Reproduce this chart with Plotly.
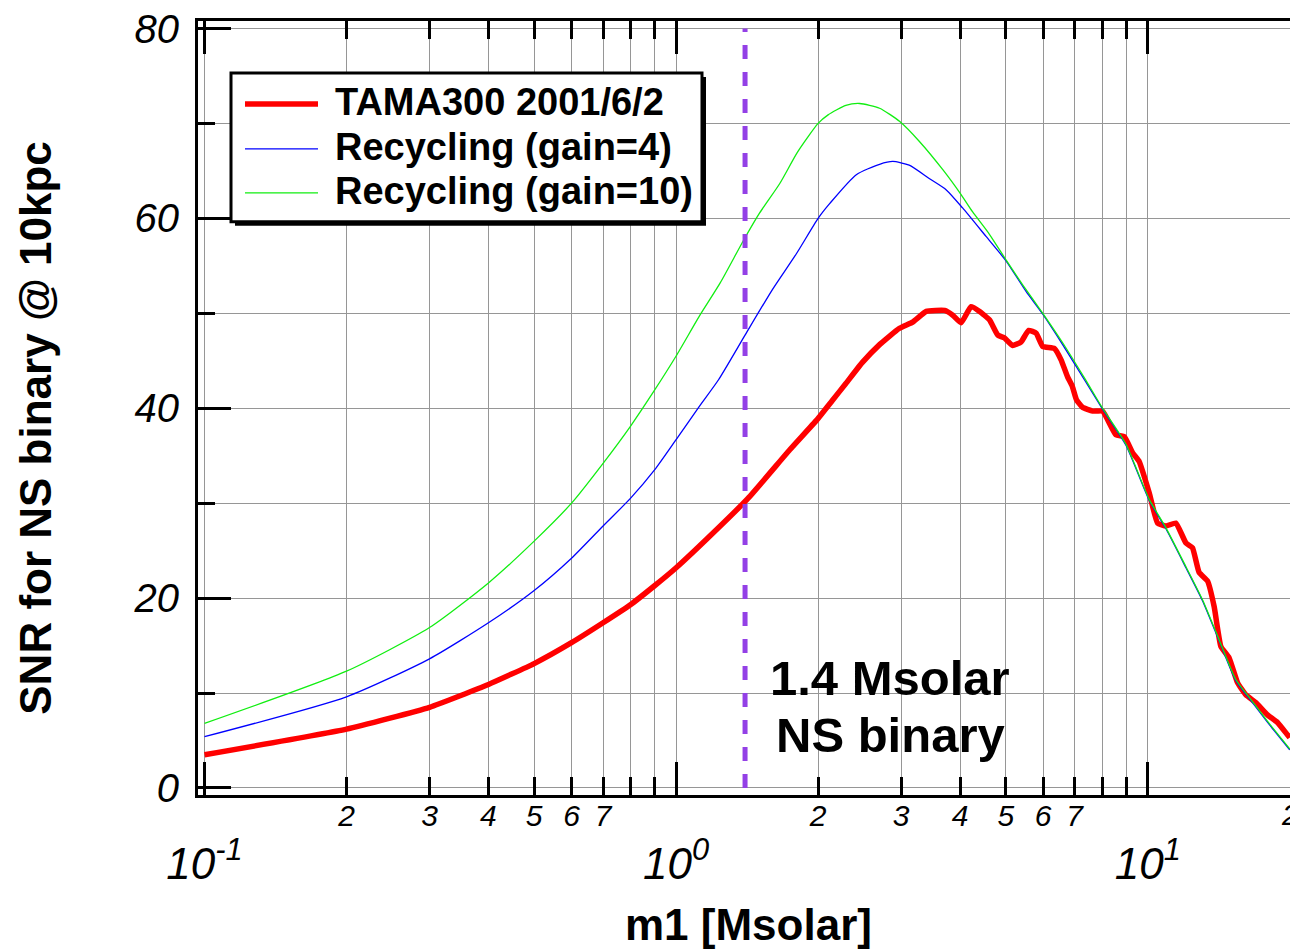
import plotly.graph_objects as go

# ---------------- data ----------------
mass_tama = [0.1, 0.2, 0.3, 0.4, 0.5, 0.6, 0.7, 0.8, 0.9, 1.0, 1.16, 1.42, 1.74, 1.99, 2.15, 2.29,
             2.48, 2.70, 2.97, 3.18, 3.39, 3.71, 3.86, 4.02, 4.22, 4.40, 4.62, 4.81, 4.97, 5.17,
             5.39, 5.59, 5.80, 5.99, 6.34, 6.55, 6.76, 6.92, 7.06, 7.27, 7.64, 8.02, 8.56, 8.92,
             9.29, 9.59, 10.07, 10.49, 10.93, 11.47, 12.05, 12.44, 12.85, 13.39, 13.83, 14.29,
             14.88, 15.50, 16.15, 16.95, 17.94, 18.84, 19.78, 20.0]
snr_tama = [3.5, 6.2, 8.5, 10.9, 13.1, 15.3, 17.4, 19.3, 21.3, 23.2, 26.2, 30.5, 35.6, 38.8, 40.9, 42.6,
            44.8, 46.7, 48.4, 49.1, 50.2, 50.3, 49.8, 49.0, 50.7, 50.2, 49.3, 47.7, 47.4, 46.6,
            47.0, 48.2, 47.9, 46.5, 46.3, 45.1, 43.3, 42.3, 40.9, 40.1, 39.7, 39.7, 37.2, 37.0,
            35.3, 34.4, 31.1, 27.9, 27.6, 27.9, 25.8, 25.3, 22.7, 21.8, 19.1, 14.9,
            13.7, 11.1, 9.8, 9.0, 7.7, 6.9, 5.6, 5.3]

mass_gain4 = [0.1, 0.2, 0.3, 0.4, 0.5, 0.6, 0.7, 0.8, 0.9, 1.0, 1.12, 1.23, 1.40, 1.60, 1.80, 2.00,
              2.12, 2.41, 2.70, 2.88, 3.12, 3.44, 3.74, 4.05, 4.54, 5.01, 5.52, 5.99, 6.60, 7.34,
              8.02, 8.99, 10.07, 10.93, 12.05, 13.07, 14.17, 15.38, 16.67, 18.09, 19.94, 20.0]
snr_gain4 = [5.4, 9.6, 13.6, 17.4, 20.8, 24.2, 27.6, 30.5, 33.5, 36.7, 40.2, 43.0, 47.7, 52.5, 56.3, 60.0,
             61.6, 64.6, 65.7, 66.0, 65.6, 64.2, 63.0, 61.1, 58.1, 55.5, 52.3, 49.9, 46.7, 43.0,
             39.9, 36.1, 30.3, 27.3, 23.2, 19.7, 15.5, 11.3, 9.0, 6.7, 4.1, 4.0]

mass_gain10 = [0.1, 0.2, 0.3, 0.4, 0.5, 0.6, 0.7, 0.8, 0.9, 1.0, 1.12, 1.24, 1.39, 1.50, 1.66, 1.81,
               2.00, 2.10, 2.29, 2.45, 2.70, 2.98, 3.28, 3.68, 4.02, 4.25, 4.62, 5.01, 5.43, 5.99,
               6.60, 7.34, 8.02, 8.99, 10.07, 10.93, 12.05, 13.07, 14.17, 15.38, 16.67, 18.09, 19.94, 20.0]
snr_gain10 = [6.8, 12.3, 16.9, 21.6, 26.0, 30.0, 34.2, 38.1, 41.9, 45.5, 49.7, 53.2, 57.7, 60.5, 63.7, 67.0,
              70.0, 70.9, 71.9, 72.1, 71.6, 70.2, 68.1, 65.1, 62.5, 60.7, 58.3, 55.6, 53.0, 50.0,
              46.9, 43.2, 40.0, 36.2, 30.4, 27.4, 23.3, 19.8, 15.6, 11.4, 9.1, 6.8, 4.2, 4.1]

ns_mass = [1.4, 1.4]
ns_snr = [0, 80]

series_names = ["TAMA300 2001/6/2", "Recycling (gain=4)", "Recycling (gain=10)"]
series_colors = ["#ff0000", "#0000ff", "#11ee11"]

y_major = [0, 20, 40, 60, 80]
y_minor = [10, 30, 50, 70]
x_major = [0.1, 1, 10]
x_major_text = ["10<sup>-1</sup>", "10<sup>0</sup>", "10<sup>1</sup>"]
x_minor = [0.2, 0.3, 0.4, 0.5, 0.6, 0.7, 0.8, 0.9, 2, 3, 4, 5, 6, 7, 8, 9, 20]
x_minor_labelled = [0.2, 0.3, 0.4, 0.5, 0.6, 0.7, 2, 3, 4, 5, 6, 7]
x_minor_text = ["2", "3", "4", "5", "6", "7", "2", "3", "4", "5", "6", "7"]

x_title = "m1 [Msolar]"
y_title = "SNR for NS binary @ 10kpc"
note_lines = ["1.4 Msolar", "NS binary"]

# ---------------- figure ----------------
FONT = "Liberation Sans, Arial, sans-serif"
GRID = "rgb(150,150,150)"
XR = [-1.0138, 1.3016]
YR = [-0.74, 80.79]

fig = go.Figure()
fig.add_trace(go.Scatter(x=mass_tama, y=snr_tama, mode="lines", name=series_names[0],
                         line=dict(color=series_colors[0], width=5.5, shape="spline", smoothing=0.4),
                         showlegend=False))
fig.add_trace(go.Scatter(x=mass_gain4, y=snr_gain4, mode="lines", name=series_names[1],
                         line=dict(color=series_colors[1], width=1.3, shape="spline", smoothing=0.6),
                         showlegend=False))
fig.add_trace(go.Scatter(x=mass_gain10, y=snr_gain10, mode="lines", name=series_names[2],
                         line=dict(color=series_colors[2], width=1.3, shape="spline", smoothing=0.6),
                         showlegend=False))
fig.add_trace(go.Scatter(x=ns_mass, y=ns_snr, mode="lines", xaxis="x2", yaxis="y",
                         line=dict(color="#9340e6", width=5, dash="14px,13px"), showlegend=False,
                         name="1.4 Msolar"))

tick_font_kw = dict(family=FONT, color="black", style="italic")

fig.update_layout(
    width=1290, height=950,
    margin=dict(l=198, r=0, t=21, b=154.5),
    paper_bgcolor="white", plot_bgcolor="white",
    showlegend=False,
    xaxis=dict(type="log", range=XR, tickmode="array", tickvals=x_major, ticktext=x_major_text,
               ticks="inside", ticklen=33, tickwidth=3, tickcolor="black",
               showline=True, linewidth=3, linecolor="black", mirror="ticks",
               showgrid=True, gridcolor=GRID, gridwidth=1, zeroline=False,
               minor=dict(tickmode="array", tickvals=x_minor, ticks="inside", ticklen=18, tickwidth=3,
                          tickcolor="black", showgrid=True, gridcolor=GRID, gridwidth=1),
               tickfont=dict(size=44, **tick_font_kw), ticklabelstandoff=28, automargin=False),
    xaxis2=dict(type="log", range=XR, overlaying="x", anchor="y", side="bottom",
                tickmode="array", tickvals=x_minor_labelled, ticktext=x_minor_text,
                ticks="", showgrid=False, showline=False, zeroline=False,
                tickfont=dict(size=30, **tick_font_kw), ticklabelstandoff=0, automargin=False),
    yaxis=dict(range=YR, tickmode="array", tickvals=y_major,
               ticks="inside", ticklen=33, tickwidth=3, tickcolor="black",
               showline=True, linewidth=3, linecolor="black", mirror=False,
               showgrid=True, gridcolor=GRID, gridwidth=1, zeroline=False,
               minor=dict(tickmode="array", tickvals=y_minor, ticks="inside", ticklen=17, tickwidth=3,
                          tickcolor="black", showgrid=True, gridcolor=GRID, gridwidth=1),
               tickfont=dict(size=40, **tick_font_kw), ticklabelstandoff=8, automargin=False),
    yaxis2=dict(range=YR, overlaying="y", anchor="x", side="right", tickmode="array", tickvals=y_major,
                ticks="inside", ticklen=23, tickwidth=3, tickcolor="black",
                minor=dict(tickmode="array", tickvals=y_minor, ticks="inside", ticklen=8, tickwidth=3,
                           tickcolor="black", showgrid=False),
                showticklabels=False, showgrid=False, showline=False, zeroline=False, automargin=False),
)

# ---------------- legend box (drawn by hand to match the long sample lines) ----------------
def px_x(p):
    return (p - 198) / 1092.0

def px_y(p):
    return (795.5 - p) / 774.5

shapes = []
shapes.append(dict(type="rect", xref="paper", yref="paper", layer="above",
                   x0=px_x(235), x1=px_x(706), y0=px_y(226), y1=px_y(77),
                   fillcolor="black", line=dict(width=0)))
shapes.append(dict(type="rect", xref="paper", yref="paper", layer="above",
                   x0=px_x(231), x1=px_x(702), y0=px_y(222), y1=px_y(73),
                   fillcolor="white", line=dict(color="black", width=3)))
row_y = [104, 149, 193]
row_w = [5.5, 1.3, 1.3]
annotations = []
for name, col, yy, ww in zip(series_names, series_colors, row_y, row_w):
    shapes.append(dict(type="line", xref="paper", yref="paper", layer="above",
                       x0=px_x(245), x1=px_x(318), y0=px_y(yy), y1=px_y(yy),
                       line=dict(color=col, width=ww)))
    annotations.append(dict(xref="paper", yref="paper", x=px_x(333), y=px_y(yy - 2),
                            xanchor="left", yanchor="middle", showarrow=False, text=name,
                            font=dict(family=FONT, size=38, color="black", weight="bold")))

# axis titles
annotations.append(dict(xref="paper", yref="paper", x=px_x(748), y=px_y(925), xanchor="center",
                        yanchor="middle", showarrow=False, text=x_title,
                        font=dict(family=FONT, size=44, color="black", weight="bold")))
annotations.append(dict(xref="paper", yref="paper", x=px_x(36), y=px_y(428), xanchor="center",
                        yanchor="middle", showarrow=False, text=y_title, textangle=-90,
                        font=dict(family=FONT, size=44, color="black", weight="bold")))
# note
annotations.append(dict(xref="paper", yref="paper", x=px_x(890), y=px_y(678), xanchor="center",
                        yanchor="middle", showarrow=False, text=note_lines[0],
                        font=dict(family=FONT, size=49, color="black", weight="bold")))
annotations.append(dict(xref="paper", yref="paper", x=px_x(890), y=px_y(735), xanchor="center",
                        yanchor="middle", showarrow=False, text=note_lines[1],
                        font=dict(family=FONT, size=49, color="black", weight="bold")))
# partially visible label of the 20 tick at the right edge (cut by the edge, as in the reference)
annotations.append(dict(xref="paper", yref="paper", x=px_x(1279), y=px_y(815), xanchor="left",
                        yanchor="middle", showarrow=False, text="2",
                        font=dict(family=FONT, size=30, color="black", style="italic")))

fig.update_layout(shapes=shapes, annotations=annotations)
fig.write_html("out.html")
